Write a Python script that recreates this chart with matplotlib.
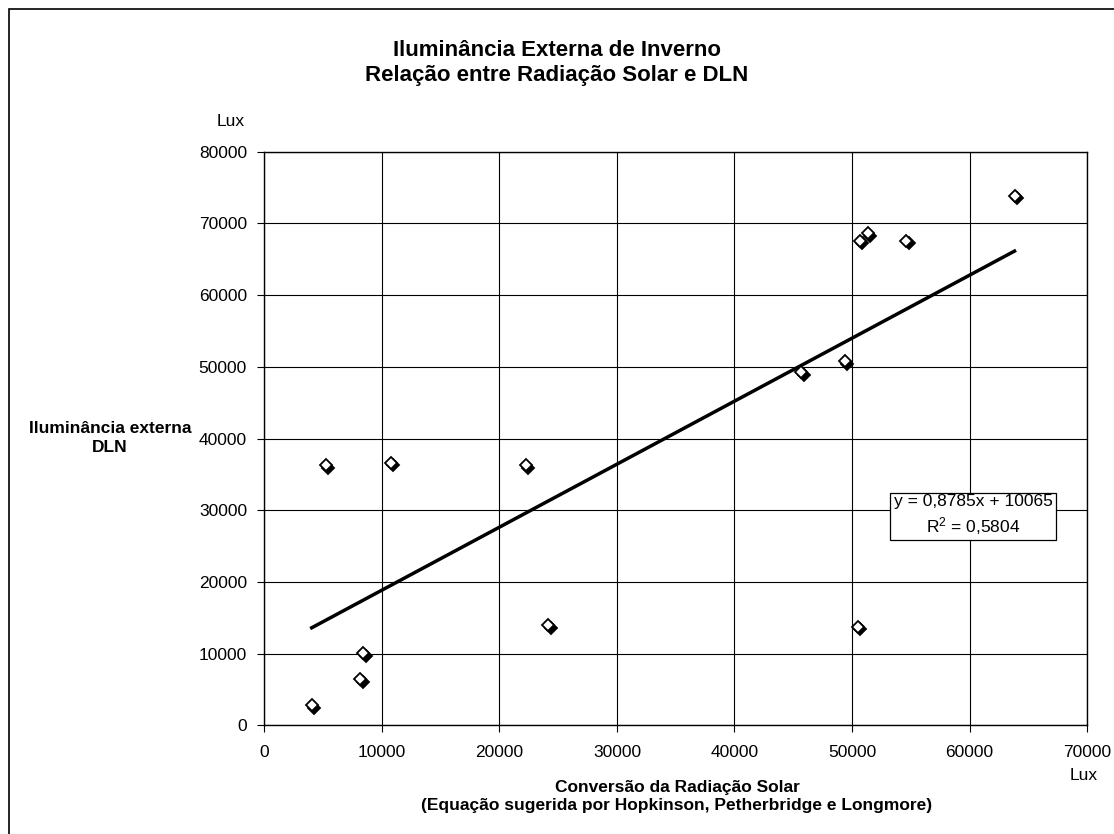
import matplotlib
matplotlib.use("Agg")
import matplotlib.pyplot as plt
import matplotlib.transforms as mtransforms
from matplotlib.patches import Rectangle

plt.rcParams['font.family'] = ['Liberation Sans', 'DejaVu Sans']

# dados
radiacao = [4030, 5220, 8420, 8140, 10770, 22250, 24150,
            50510, 63830, 50650, 51360, 54620, 49380, 45700]
dln = [2830, 36300, 10040, 6415, 36620, 36300, 13990,
       13750, 73870, 67550, 68620, 67550, 50810, 49230]

# linha de tendencia (do rotulo)
coef_a = 0.8785
coef_b = 10065
r2 = 0.5804

xticks = [0, 10000, 20000, 30000, 40000, 50000, 60000, 70000]
yticks = [0, 10000, 20000, 30000, 40000, 50000, 60000, 70000, 80000]

fig = plt.figure(figsize=(11.14, 8.34), dpi=100)
ax = fig.add_axes([0.2373, 0.1303, 0.9758 - 0.2373, 0.8181 - 0.1303])

# moldura externa (so aparecem os lados de cima e da esquerda)
fig.patches.append(Rectangle((9 / 1114, -0.1), 2, 1.1 - 9 / 834, transform=fig.transFigure,
                             fill=False, edgecolor='black', linewidth=1.2))

ax.set_xlim(0, 70000)
ax.set_ylim(0, 80000)
ax.set_xticks(xticks)
ax.set_yticks(yticks)
ax.grid(True, color='black', linewidth=0.8)
ax.set_axisbelow(True)
ax.tick_params(direction='out', length=5, width=0.8, labelsize=12.5, colors='black')
ax.tick_params(axis='y', pad=7.5)
ax.tick_params(axis='x', pad=9)
for s in ax.spines.values():
    s.set_linewidth(1.0)
    s.set_color('black')

# pontos com sombra
sombra = mtransforms.offset_copy(ax.transData, fig=fig, x=2.5, y=-2.5, units='dots')
ax.plot(radiacao, dln, linestyle='none', marker='D', markersize=6.3,
        markerfacecolor='black', markeredgecolor='black', markeredgewidth=1.3,
        transform=sombra, zorder=3)
ax.plot(radiacao, dln, linestyle='none', marker='D', markersize=6.3,
        markerfacecolor='white', markeredgecolor='black', markeredgewidth=1.3, zorder=4)

xmin = min(radiacao)
xmax = max(radiacao)
ax.plot([xmin, xmax], [coef_a * xmin + coef_b, coef_a * xmax + coef_b],
        color='black', linewidth=2.5, zorder=2)

eq = 'y = ' + str(coef_a).replace('.', ',') + 'x + ' + str(coef_b) + '\n$\\mathregular{R^2}$ = ' + str(r2).replace('.', ',')
fig.text(973 / 1114, 1 - 515.5 / 834, eq, ha='center', va='center', fontsize=12.5,
         linespacing=1.3,
         bbox=dict(boxstyle='square,pad=0.2', facecolor='white', edgecolor='black', linewidth=0.9))

fig.text(557 / 1114, 1 - 63.5 / 834, 'Iluminância Externa de Inverno\nRelação entre Radiação Solar e DLN',
         ha='center', va='center', fontsize=16, fontweight='bold', linespacing=1.25)

fig.text(110 / 1114, 1 - 438 / 834, 'Iluminância externa\nDLN', ha='center', va='center',
         fontsize=12.5, fontweight='bold', linespacing=1.3)
fig.text(231 / 1114, 1 - 121 / 834, 'Lux', ha='center', va='center', fontsize=12.5)

fig.text(677 / 1114, 1 - 796.5 / 834,
         'Conversão da Radiação Solar\n(Equação sugerida por Hopkinson, Petherbridge e Longmore)',
         ha='center', va='center', fontsize=12.5, fontweight='bold', linespacing=1.3)
fig.text(1084 / 1114, 1 - 775 / 834, 'Lux', ha='center', va='center', fontsize=12.5)

fig.savefig('out.png', dpi=100, facecolor='white')
